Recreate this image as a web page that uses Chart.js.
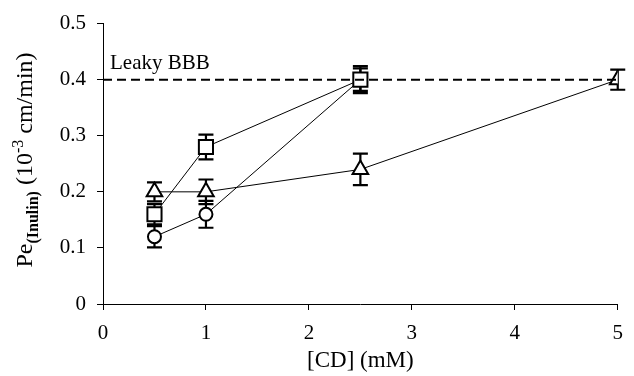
<!DOCTYPE html>
<html>
<head>
<meta charset="utf-8">
<script src="https://cdn.jsdelivr.net/npm/chart.js@4/dist/chart.umd.min.js"></script>
<style>
  html, body { margin: 0; padding: 0; background: #fff; }
  #wrap { width: 634px; height: 376px; }
</style>
</head>
<body>
<div id="wrap"><canvas id="myChart" width="634" height="376"></canvas></div>
<script>
// Datos
const squareX = [0.5, 1, 2.5];
const squareY = [0.16, 0.28, 0.40];
const squareErr = [0.018, 0.022, 0.024];

const circleX = [0.5, 1, 2.5];
const circleY = [0.12, 0.16, 0.40];
const circleErr = [0.019, 0.024, 0.02];

const triangleX = [0.5, 1, 2.5, 5];
const triangleY = [0.20, 0.20, 0.24, 0.40];
const triangleErr = [0.017, 0.022, 0.028, 0.018];

const leakyX = [0, 5];
const leakyY = [0.4, 0.4];

const xTicks = [0, 1, 2, 3, 4, 5];
const yTicks = [0, 0.1, 0.2, 0.3, 0.4, 0.5];

const serif = "'Liberation Serif', 'Times New Roman', serif";

function pts(xs, ys) {
    return xs.map((x, i) => ({ x: x, y: ys[i] }));
}

function serie(xs, ys, errs, style, radius) {
    return {
        data: pts(xs, ys),
        errs: errs,
        showLine: true,
        borderColor: '#000',
        borderWidth: 1,
        pointStyle: style,
        pointRadius: radius,
        pointBackgroundColor: '#fff',
        pointBorderColor: '#000',
        pointBorderWidth: 2,
    };
}

// Barras de error (detras de las lineas y marcadores)
const errorBars = {
    id: 'errorBars',
    beforeDatasetsDraw(chart) {
        const ctx = chart.ctx;
        const xs = chart.scales.x, ys = chart.scales.y;
        ctx.save();
        ctx.strokeStyle = '#000';
        ctx.lineWidth = 2.2;
        chart.data.datasets.forEach(ds => {
            if (!ds.errs) return;
            ds.data.forEach((p, i) => {
                const e = ds.errs[i];
                const px = xs.getPixelForValue(p.x);
                const top = ys.getPixelForValue(p.y + e);
                const bot = ys.getPixelForValue(p.y - e);
                ctx.beginPath();
                ctx.moveTo(px, top); ctx.lineTo(px, bot);
                ctx.moveTo(px - 7.5, top); ctx.lineTo(px + 7.5, top);
                ctx.moveTo(px - 7.5, bot); ctx.lineTo(px + 7.5, bot);
                ctx.stroke();
            });
        });
        ctx.restore();
    }
};

// Textos: etiqueta "Leaky BBB" y titulo del eje Y con sub/superindices
const textos = {
    id: 'textos',
    afterDraw(chart) {
        const ctx = chart.ctx;
        const xs = chart.scales.x, ys = chart.scales.y;
        ctx.save();
        ctx.fillStyle = '#000';
        ctx.textBaseline = 'alphabetic';
        ctx.textAlign = 'left';
        ctx.font = '21px ' + serif;
        ctx.fillText('Leaky BBB', xs.getPixelForValue(0) + 7, ys.getPixelForValue(0.4) - 11);

        // titulo eje Y
        const segs = [
            { t: 'Pe', f: '24px ' + serif, dy: 0 },
            { t: '(Inulin)', f: 'bold 16px ' + serif, dy: 6 },
            { t: ' (10', f: '24px ' + serif, dy: 0 },
            { t: '-3', f: '16px ' + serif, dy: -9 },
            { t: ' cm/min)', f: '24px ' + serif, dy: 0 },
        ];
        let total = 0;
        segs.forEach(s => { ctx.font = s.f; s.w = ctx.measureText(s.t).width; total += s.w; });
        ctx.translate(32, 160);
        ctx.rotate(-Math.PI / 2);
        let x = -total / 2;
        segs.forEach(s => {
            ctx.font = s.f;
            ctx.fillText(s.t, x, s.dy);
            x += s.w;
        });
        ctx.restore();
    }
};

const data = {
    datasets: [
        {
            data: pts(leakyX, leakyY),
            showLine: true,
            borderColor: '#000',
            borderWidth: 2,
            borderDash: [9, 5],
            pointRadius: 0,
        },
        serie(triangleX, triangleY, triangleErr, 'triangle', 9),
        serie(squareX, squareY, squareErr, 'rect', 10),
        serie(circleX, circleY, circleErr, 'circle', 6.5),
    ]
};

const config = {
    type: 'scatter',
    data: data,
    options: {
        responsive: false,
        animation: false,
        layout: { padding: { left: 0, right: 11, top: 20, bottom: 0 } },
        plugins: {
            legend: { display: false },
            tooltip: { enabled: false },
        },
        scales: {
            x: {
                type: 'linear',
                min: 0, max: 5,
                afterBuildTicks: s => { s.ticks = xTicks.map(v => ({ value: v })); },
                afterFit: s => { s.height = 72; },
                ticks: {
                    color: '#000',
                    padding: 11,
                    maxRotation: 0,
                    font: { family: serif, size: 21 },
                    callback: v => String(v),
                },
                grid: { drawOnChartArea: false, color: '#000', tickLength: 6, tickWidth: 1 },
                border: { color: '#000', width: 1 },
                title: {
                    display: true,
                    text: '[CD] (mM)',
                    color: '#000',
                    font: { family: serif, size: 23 },
                    padding: { top: 0, bottom: 1 },
                },
            },
            y: {
                type: 'linear',
                min: 0, max: 0.5,
                afterBuildTicks: s => { s.ticks = yTicks.map(v => ({ value: v })); },
                afterFit: s => { s.width = 103; },
                ticks: {
                    color: '#000',
                    padding: 11,
                    font: { family: serif, size: 21 },
                    callback: v => (v === 0 ? '0' : v.toFixed(1)),
                },
                grid: { drawOnChartArea: false, color: '#000', tickLength: 6, tickWidth: 1 },
                border: { color: '#000', width: 1 },
            },
        },
    },
    plugins: [errorBars, textos],
};

const myChart = new Chart(document.getElementById('myChart'), config);
</script>
</body>
</html>
